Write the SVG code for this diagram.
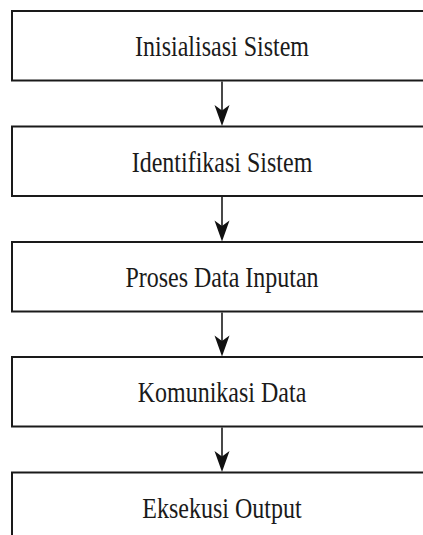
<svg xmlns="http://www.w3.org/2000/svg" width="423" height="535" viewBox="0 0 423 535">
<defs>
<style>
.box{fill:#ffffff;stroke:#1a1a1a;stroke-width:2}
.lbl{font-family:"Liberation Serif","Times New Roman",serif;font-size:24px;fill:#1a1a1a;text-anchor:middle}
.ln{stroke:#1a1a1a;stroke-width:1.6;fill:none}
.hd{fill:#111111;stroke:none}
</style>
</defs>
<rect width="423" height="535" fill="#ffffff"/>
<g id="n1"><rect class="box" x="12" y="11" width="422" height="69.5"/><text class="lbl" transform="translate(222,56) scale(1,1.2)">Inisialisasi Sistem</text></g>
<g id="n2"><rect class="box" x="12" y="126.5" width="422" height="69.5"/><text class="lbl" transform="translate(222,171.5) scale(1,1.2)">Identifikasi Sistem</text></g>
<g id="n3"><rect class="box" x="12" y="242" width="422" height="69.5"/><text class="lbl" transform="translate(222,287) scale(1,1.2)">Proses Data Inputan</text></g>
<g id="n4"><rect class="box" x="12" y="357" width="422" height="69.5"/><text class="lbl" transform="translate(222,402) scale(1,1.2)">Komunikasi Data</text></g>
<g id="n5"><rect class="box" x="12" y="472.5" width="422" height="69.5"/><text class="lbl" transform="translate(222,517.5) scale(1,1.2)">Eksekusi Output</text></g>
<g id="connectors">
<line class="ln" x1="222" y1="81.5" x2="222" y2="112"/>
<path class="hd" d="M222,126 L214.5,105 L222,110.5 L229.5,105 Z"/>
<line class="ln" x1="222" y1="197" x2="222" y2="227.5"/>
<path class="hd" d="M222,241.5 L214.5,220.5 L222,226 L229.5,220.5 Z"/>
<line class="ln" x1="222" y1="312.5" x2="222" y2="342.5"/>
<path class="hd" d="M222,356.5 L214.5,335.5 L222,341 L229.5,335.5 Z"/>
<line class="ln" x1="222" y1="427.5" x2="222" y2="458"/>
<path class="hd" d="M222,472 L214.5,451 L222,456.5 L229.5,451 Z"/>
</g>
</svg>
